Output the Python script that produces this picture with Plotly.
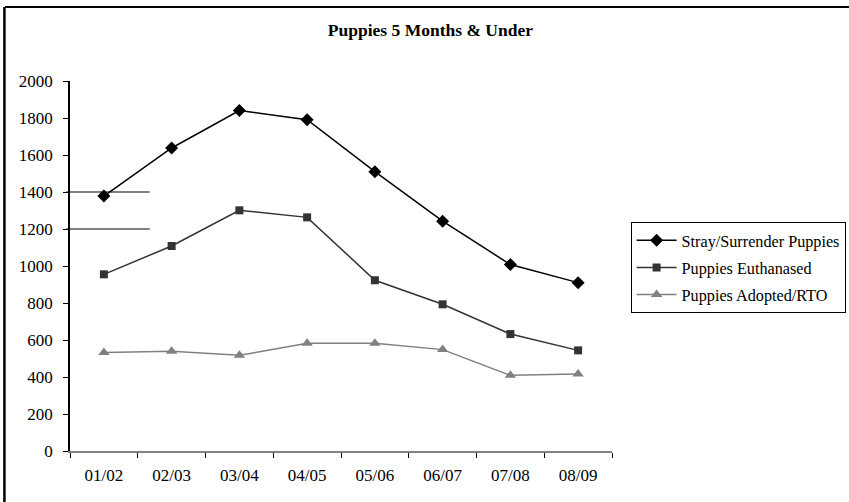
import plotly.graph_objects as go

seasons = ["01/02", "02/03", "03/04", "04/05", "05/06", "06/07", "07/08", "08/09"]
stray_surrender = [1378, 1638, 1840, 1791, 1510, 1242, 1008, 910]
euthanased = [955, 1108, 1301, 1263, 923, 793, 632, 544]
adopted_rto = [532, 539, 517, 582, 582, 548, 409, 416]

FONT = "Liberation Serif, Times New Roman, serif"

fig = go.Figure()
fig.add_trace(go.Scatter(
    x=seasons, y=stray_surrender, name="Stray/Surrender Puppies",
    mode="lines+markers", legendgroup="a",
    line=dict(color="#000000", width=1.5),
    marker=dict(symbol="diamond", size=10, color="#000000"),
))
fig.add_trace(go.Scatter(
    x=seasons, y=euthanased, name="Puppies Euthanased",
    mode="lines+markers", legendgroup="b",
    line=dict(color="#333333", width=1.5),
    marker=dict(symbol="square", size=8, color="#333333"),
))
fig.add_trace(go.Scatter(
    x=seasons, y=adopted_rto, name="Puppies Adopted/RTO",
    mode="lines+markers", legendgroup="c",
    line=dict(color="#808080", width=1.5),
    marker=dict(symbol="triangle-up", size=10, color="#808080"),
))

shapes = [
    # chart frame (top and left edges)
    dict(type="line", xref="paper", yref="paper", x0=-0.120, x1=1.5, y0=1.2, y1=1.2,
         line=dict(color="#000000", width=2)),
    dict(type="line", xref="paper", yref="paper", x0=-0.121, x1=-0.121, y0=-0.2, y1=1.2,
         line=dict(color="#000000", width=2.5)),
    # stray rule lines near the value axis
    dict(type="line", xref="paper", yref="y", x0=-0.007, x1=0.147, y0=1400, y1=1400,
         line=dict(color="#000000", width=1)),
    dict(type="line", xref="paper", yref="y", x0=-0.007, x1=0.147, y0=1200, y1=1200,
         line=dict(color="#000000", width=1)),
    dict(type="line", xref="paper", yref="y", x0=-0.0015, x1=-0.0015, y0=1031, y1=1447,
         line=dict(color="#000000", width=1)),
]

fig.update_layout(
    width=849, height=502,
    margin=dict(l=70, r=237, t=81, b=51, autoexpand=False),
    paper_bgcolor="white", plot_bgcolor="white",
    font=dict(family=FONT, size=17, color="#000000"),
    title=dict(text="<b>Puppies 5 Months &amp; Under</b>", x=0.507, xanchor="center",
               y=1 - 30 / 502, yanchor="middle", font=dict(size=17.5)),
    showlegend=True,
    legend=dict(x=1.431, y=0.618, xanchor="right", yanchor="top",
                bordercolor="#000000", borderwidth=1, bgcolor="white",
                font=dict(size=16.2), tracegroupgap=3, itemwidth=40, itemclick=False),
    xaxis=dict(type="category", range=[-0.5, 7.5], showgrid=False,
               showline=True, linecolor="#808080", linewidth=1.5,
               ticks="outside", tickson="boundaries", ticklen=5, tickcolor="#000000",
               ticklabelstandoff=8, zeroline=False),
    yaxis=dict(range=[0, 2000], dtick=200, showgrid=False,
               showline=True, linecolor="#000000", linewidth=1.5,
               ticks="outside", ticklen=5, tickcolor="#000000",
               ticklabelstandoff=7, zeroline=False),
    shapes=shapes,
)

fig.write_html("out.html")
